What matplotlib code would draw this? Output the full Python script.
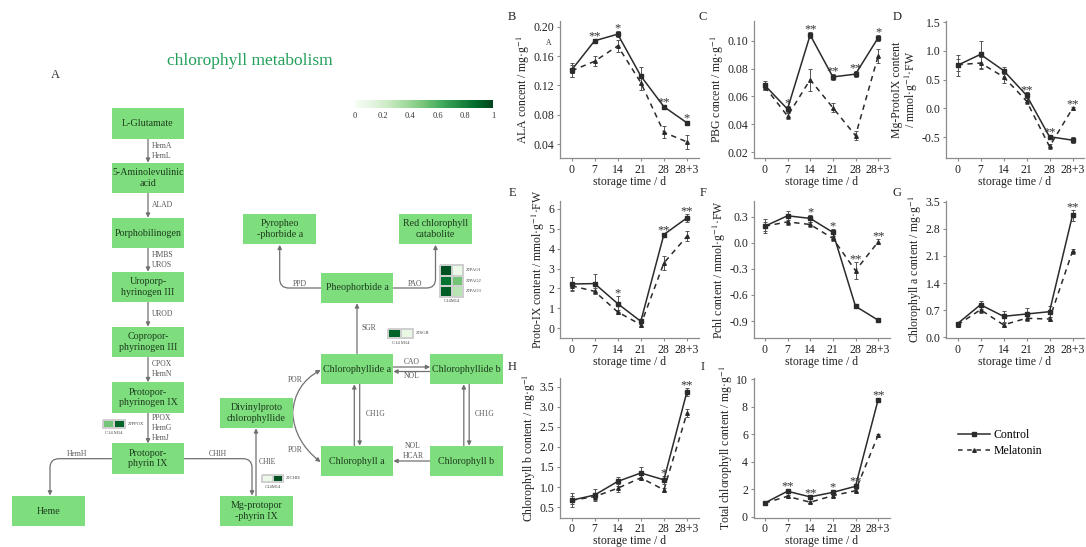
import numpy as np
import matplotlib
matplotlib.use("Agg")
import matplotlib.pyplot as plt
from matplotlib.patches import Rectangle, FancyArrowPatch
from matplotlib.path import Path
from matplotlib.lines import Line2D
from matplotlib.cm import ScalarMappable
from matplotlib.colors import Normalize

plt.rcParams['font.family'] = ['Liberation Serif', 'DejaVu Serif']
plt.rcParams['mathtext.fontset'] = 'stix'

# ---------------- data ----------------
days = ['0', '7', '14', '21', '28', '28+3']

ala_ctrl = [0.141, 0.181, 0.190, 0.133, 0.091, 0.069]
ala_ctrl_err = [0.010, 0.003, 0.004, 0.012, 0.003, 0.003]
ala_mel = [0.140, 0.153, 0.174, 0.124, 0.056, 0.043]
ala_mel_err = [0.008, 0.007, 0.008, 0.010, 0.008, 0.010]
ala_sig = ['', '**', '*', '', '**', '*']

pbg_ctrl = [0.068, 0.051, 0.104, 0.074, 0.076, 0.102]
pbg_ctrl_err = [0.003, 0.002, 0.002, 0.002, 0.002, 0.002]
pbg_mel = [0.067, 0.046, 0.072, 0.052, 0.032, 0.089]
pbg_mel_err = [0.002, 0.002, 0.008, 0.003, 0.003, 0.005]
pbg_sig = ['', '*', '**', '**', '**', '*']

mgp_ctrl = [0.75, 0.94, 0.66, 0.23, -0.49, -0.55]
mgp_ctrl_err = [0.18, 0.23, 0.06, 0.05, 0.03, 0.05]
mgp_mel = [0.76, 0.79, 0.55, 0.13, -0.66, 0.00]
mgp_mel_err = [0.10, 0.10, 0.10, 0.05, 0.05, 0.03]
mgp_sig = ['', '', '', '**', '**', '**']

pix_ctrl = [2.22, 2.24, 1.23, 0.34, 4.71, 5.55]
pix_ctrl_err = [0.35, 0.50, 0.40, 0.10, 0.10, 0.20]
pix_mel = [2.13, 1.85, 0.81, 0.17, 3.28, 4.62]
pix_mel_err = [0.20, 0.15, 0.10, 0.10, 0.35, 0.25]
pix_sig = ['', '', '*', '', '**', '**']

pchl_ctrl = [0.19, 0.31, 0.28, 0.12, -0.73, -0.89]
pchl_ctrl_err = [0.08, 0.05, 0.04, 0.04, 0.02, 0.02]
pchl_mel = [0.19, 0.24, 0.21, 0.05, -0.32, 0.01]
pchl_mel_err = [0.05, 0.04, 0.03, 0.03, 0.10, 0.03]
pchl_sig = ['', '', '*', '*', '**', '**']

chla_ctrl = [0.35, 0.84, 0.54, 0.60, 0.66, 3.15]
chla_ctrl_err = [0.05, 0.10, 0.15, 0.15, 0.15, 0.15]
chla_mel = [0.32, 0.71, 0.32, 0.49, 0.47, 2.22]
chla_mel_err = [0.05, 0.08, 0.05, 0.06, 0.05, 0.06]
chla_sig = ['', '', '', '', '', '**']

chlb_ctrl = [0.67, 0.80, 1.14, 1.35, 1.18, 3.38]
chlb_ctrl_err = [0.18, 0.15, 0.12, 0.15, 0.10, 0.10]
chlb_mel = [0.67, 0.76, 0.97, 1.23, 0.93, 2.84]
chlb_mel_err = [0.10, 0.08, 0.10, 0.06, 0.05, 0.10]
chlb_sig = ['', '', '', '', '*', '**']

tot_ctrl = [1.01, 1.86, 1.45, 1.78, 2.22, 8.53]
tot_ctrl_err = [0.10, 0.15, 0.10, 0.15, 0.15, 0.15]
tot_mel = [1.00, 1.49, 1.06, 1.54, 1.90, 5.95]
tot_mel_err = [0.08, 0.10, 0.08, 0.12, 0.10, 0.10]
tot_sig = ['', '**', '**', '*', '**', '**']

series_names = ['Control', 'Melatonin']

# pathway heatmap values (C14, M14)
ppox_vals = [[0.50, 0.90]]
chle_vals = [[0.08, 0.95]]
sgr_vals = [[0.90, 0.10]]
pao_vals = [[0.95, 0.08], [0.85, 0.50], [0.92, 0.30]]
pao_genes = ['ZJPAO1', 'ZJPAO2', 'ZJPAO3']
cbar_ticks = [0, 0.2, 0.4, 0.6, 0.8, 1]

# ---------------- figure ----------------
W, H = 1086, 547
fig = plt.figure(figsize=(W / 100, H / 100), dpi=100)

ax0 = fig.add_axes([0, 0, 1, 1])
ax0.set_xlim(0, W)
ax0.set_ylim(H, 0)
ax0.axis('off')

BOX = '#7ede7e'
TXT = '#1d3b1d'
ARR = '#707070'
ENZ = '#555555'

nodes = {
    'glu': (148, 123.5, 'L-Glutamate'),
    'ala': (148, 178, '5-Aminolevulinic\nacid'),
    'pbg': (148, 233, 'Porphobilinogen'),
    'uro': (148, 287, 'Uroporp-\nhyrinogen III'),
    'copro': (148, 342, 'Copropor-\nphyrinogen III'),
    'protogen': (148, 397.5, 'Protopor-\nphyrinogen IX'),
    'proto': (148, 458.7, 'Protopor-\nphyrin IX'),
    'heme': (48.3, 511, 'Heme'),
    'mgp': (256.3, 511, 'Mg-protopor\n-phyrin IX'),
    'dv': (256.3, 413, 'Divinylproto\nchlorophyllide'),
    'chlidea': (357, 369, 'Chlorophyllide a'),
    'chlideb': (466.5, 369, 'Chlorophyllide b'),
    'chla': (357, 461, 'Chlorophyll a'),
    'chlb': (466.5, 461, 'Chlorophyll b'),
    'pheo': (357, 288, 'Pheophorbide a'),
    'pyro': (279.7, 229, 'Pyropheo\n-phorbide a'),
    'rcc': (435.5, 229, 'Red chlorophyll\ncatabolite'),
}
BW, BH = 72.7, 30.6
for key, (cx, cy, lab) in nodes.items():
    ax0.add_patch(Rectangle((cx - BW / 2, cy - BH / 2), BW, BH, fc=BOX, ec='none', zorder=2))
    ax0.text(cx, cy, lab, ha='center', va='center', fontsize=7.2, color=TXT,
             linespacing=1.15, zorder=3)


def arrow(p0, p1):
    ax0.add_patch(FancyArrowPatch(p0, p1, arrowstyle='-|>', mutation_scale=6,
                                  color=ARR, lw=0.9, shrinkA=0, shrinkB=0, zorder=1))


def path_arrow(verts, codes):
    ax0.add_patch(FancyArrowPatch(path=Path(verts, codes), arrowstyle='-|>', mutation_scale=6,
                                  color=ARR, lw=0.9, zorder=1))


def elbow(x0, y0, xc, y1, r=9):
    sx = np.sign(xc - x0)
    sy = np.sign(y1 - y0)
    verts = [(x0, y0), (xc - sx * r, y0), (xc, y0), (xc, y0 + sy * r), (xc, y1)]
    codes = [Path.MOVETO, Path.LINETO, Path.CURVE3, Path.CURVE3, Path.LINETO]
    path_arrow(verts, codes)


def enz(x, y, s, ha='left'):
    ax0.text(x, y, s, ha=ha, va='center', fontsize=5.5, color=ENZ, zorder=3)


# main vertical chain
chain = ['glu', 'ala', 'pbg', 'uro', 'copro', 'protogen', 'proto']
for a, b in zip(chain[:-1], chain[1:]):
    arrow((148, nodes[a][1] + BH / 2), (148, nodes[b][1] - BH / 2))

enz(152, 146, 'HemA'); enz(152, 155.5, 'HemL')
enz(152, 205, 'ALAD')
enz(152, 255, 'HMBS'); enz(152, 265, 'UROS')
enz(152, 314, 'UROD')
enz(152, 364.5, 'CPOX'); enz(152, 374.5, 'HemN')
enz(152, 418, 'PPOX'); enz(152, 428, 'HemG'); enz(152, 437.5, 'HemJ')

# branches from protoporphyrin IX
elbow(148 - BW / 2, 458.7, 50, 495.5)
enz(77, 454, 'HemH', ha='center')
elbow(148 + BW / 2, 458.7, 252, 495.5)
enz(218, 454, 'CHlH', ha='center')

# Mg-proto -> divinyl
arrow((256, 511 - BH / 2), (256, 413 + BH / 2))
enz(259, 461.5, 'CHlE')

# POR arcs
dvx = 256.3 + BW / 2
path_arrow([(dvx, 413), (dvx + 2, 384), (357 - BW / 2, 370)], [Path.MOVETO, Path.CURVE3, Path.CURVE3])
path_arrow([(dvx, 413), (dvx + 2, 442), (357 - BW / 2, 462)], [Path.MOVETO, Path.CURVE3, Path.CURVE3])
enz(295, 379.5, 'POR', ha='center')
enz(295, 450, 'POR', ha='center')

# chlorophyllide a <-> b
arrow((357 + BW / 2, 367), (466.5 - BW / 2, 367))
arrow((466.5 - BW / 2, 371.5), (357 + BW / 2, 371.5))
enz(411.7, 361.5, 'CAO', ha='center')
enz(411.7, 376, 'NOL', ha='center')

# chlorophyllide <-> chlorophyll
for xc in (357, 466.5):
    arrow((xc - 2.7, 461 - BH / 2), (xc - 2.7, 369 + BH / 2))
    arrow((xc + 2.7, 369 + BH / 2), (xc + 2.7, 461 - BH / 2))
enz(366, 414, 'CH1G')
enz(475, 414, 'CH1G')

# chl b -> chl a
arrow((466.5 - BW / 2, 461), (357 + BW / 2, 461))
enz(413, 446, 'NOL', ha='center')
enz(413, 455.5, 'HCAR', ha='center')

# chlorophyllide a -> pheophorbide a
arrow((357, 369 - BH / 2), (357, 288 + BH / 2))
enz(362, 327.5, 'SGR')

# pheophorbide branches
elbow(357 - BW / 2, 288, 279.7, 229 + BH / 2 + 0.5)
enz(300, 283.5, 'PPD', ha='center')
elbow(357 + BW / 2, 288, 435.5, 229 + BH / 2 + 0.5)
enz(415, 283.5, 'PAO', ha='center')

# heatmaps
cmap = plt.get_cmap('Greens')


def heat(vals, x0, y0, cw, ch):
    v = np.array(vals)
    nr, nc = v.shape
    xe = x0 + cw * np.arange(nc + 1)
    ye = y0 + ch * np.arange(nr + 1)
    ax0.pcolormesh(xe, ye, v, cmap=cmap, vmin=0, vmax=1, edgecolors='#cfcfcf',
                   linewidth=0.3, zorder=3)
    return xe, ye


def tiny(x, y, s, ha='left'):
    ax0.text(x, y, s, ha=ha, va='center', fontsize=3.3, color='#444444', zorder=3)


xe, ye = heat(ppox_vals, 102.7, 420, 11.2, 8.4)
tiny(127.5, 424.2, 'ZJPPOX')
tiny(113.8, 432.5, 'C14 M14', ha='center')

xe, ye = heat(chle_vals, 261.7, 475, 10.8, 6.8)
tiny(285.5, 478.4, 'ZJCHlE')
tiny(272.5, 487, 'C14M14', ha='center')

xe, ye = heat(sgr_vals, 388.3, 329.3, 12.5, 8.4)
tiny(415.5, 333.5, 'ZJSGR')
tiny(400.8, 342.5, 'C14 M14', ha='center')

xe, ye = heat(pao_vals, 440, 265, 11.7, 10.5)
for i, g in enumerate(pao_genes):
    tiny(465.5, (ye[i] + ye[i + 1]) / 2, g)
tiny(451.7, 301, 'C14M14', ha='center')

# title & label
ax0.text(250, 61, 'chlorophyll metabolism', ha='center', va='center', fontsize=12.5,
         color='#22a05a')
ax0.text(55, 75, 'A', ha='center', va='center', fontsize=9, color='#333333')

# colorbar
cax = fig.add_axes([355 / W, 1 - 108 / H, 138 / W, 8 / H])
cb = fig.colorbar(ScalarMappable(norm=Normalize(0, 1), cmap=cmap), cax=cax,
                  orientation='horizontal', ticks=cbar_ticks)
cb.outline.set_visible(False)
cax.tick_params(length=0, labelsize=6, pad=3, colors='#333333')
cax.set_xticklabels([f'{t:g}' for t in cbar_ticks])

# ---------------- line charts ----------------
panels = [
    ('B', ala_ctrl, ala_ctrl_err, ala_mel, ala_mel_err, ala_sig,
     'ALA concent / mg·g$^{-1}$', (0.021, 0.208), [0.04, 0.08, 0.12, 0.16, 0.20], '{:.2f}'),
    ('C', pbg_ctrl, pbg_ctrl_err, pbg_mel, pbg_mel_err, pbg_sig,
     'PBG concent / mg·g$^{-1}$', (0.016, 0.114), [0.02, 0.04, 0.06, 0.08, 0.10], '{:.2f}'),
    ('D', mgp_ctrl, mgp_ctrl_err, mgp_mel, mgp_mel_err, mgp_sig,
     'Mg-ProtoIX content\n/ mmol·g$^{-1}$·FW', (-0.86, 1.52), [-0.5, 0.0, 0.5, 1.0, 1.5], '{:.1f}'),
    ('E', pix_ctrl, pix_ctrl_err, pix_mel, pix_mel_err, pix_sig,
     'Proto-IX content / mmol·g$^{-1}$·FW', (-0.5, 6.4), [0, 1, 2, 3, 4, 5, 6], '{:d}'),
    ('F', pchl_ctrl, pchl_ctrl_err, pchl_mel, pchl_mel_err, pchl_sig,
     'Pchl content / mmol·g$^{-1}$·FW', (-1.095, 0.48), [-0.9, -0.6, -0.3, 0.0, 0.3], '{:.1f}'),
    ('G', chla_ctrl, chla_ctrl_err, chla_mel, chla_mel_err, chla_sig,
     'Chlorophyll a content / mg·g$^{-1}$', (-0.02, 3.52), [0.0, 0.7, 1.4, 2.1, 2.8, 3.5], '{:.1f}'),
    ('H', chlb_ctrl, chlb_ctrl_err, chlb_mel, chlb_mel_err, chlb_sig,
     'Chlorophyll b content / mg·g$^{-1}$', (0.24, 3.72), [0.5, 1.0, 1.5, 2.0, 2.5, 3.0, 3.5], '{:.1f}'),
    ('I', tot_ctrl, tot_ctrl_err, tot_mel, tot_mel_err, tot_sig,
     'Total chlorophyll content / mg·g$^{-1}$', (-0.05, 10.1), [0, 2, 4, 6, 8, 10], '{:d}'),
]

col_l = [560, 753.5, 946]
col_r = [698.5, 889.5, 1084]
row_t = [21, 201, 378]
row_b = [158, 338, 517.5]
letter_x = [512, 703, 897]
letter_y = [17, 193, 367]

LINE = '#2b2b2b'
SPINE = '#8c8c8c'
x = np.arange(len(days))
for k, (let, c, ce, m, me, sig, ylab, ylim, yt, fmt) in enumerate(panels):
    r, cidx = divmod(k, 3)
    l, rr, t, b = col_l[cidx], col_r[cidx], row_t[r], row_b[r]
    ax = fig.add_axes([l / W, 1 - b / H, (rr - l) / W, (b - t) / H])
    ax.patch.set_alpha(0)
    ax.errorbar(x, c, yerr=ce, fmt='-', marker='s', ms=2.4, color=LINE, lw=1.1,
                ecolor='#555555', elinewidth=0.7, capsize=1.5, capthick=0.7)
    ax.errorbar(x, m, yerr=me, fmt='--', marker='^', ms=2.6, color=LINE, lw=1.1,
                dashes=(3.5, 3), ecolor='#555555', elinewidth=0.7, capsize=1.5, capthick=0.7)
    for xi in range(len(days)):
        if sig[xi]:
            top = max(c[xi] + ce[xi], m[xi] + me[xi])
            ax.annotate(sig[xi], xy=(xi, top), xytext=(0, -2.5), textcoords='offset points',
                        ha='center', va='bottom', fontsize=9, color='#333333')
    ax.set_xlim(-0.5, 5.5)
    ax.set_ylim(*ylim)
    ax.set_xticks(x)
    ax.set_xticklabels(days)
    ax.set_yticks(yt)
    ax.set_yticklabels([fmt.format(v) for v in yt])
    for s in ('top', 'right'):
        ax.spines[s].set_visible(False)
    for s in ('left', 'bottom'):
        ax.spines[s].set_color(SPINE)
        ax.spines[s].set_linewidth(0.9)
    ax.tick_params(length=2.5, width=0.8, color=SPINE, labelsize=8.5, pad=1.5, labelcolor='#222222')
    ax.set_xlabel('storage time / d', fontsize=8.5, labelpad=0.3, color='#222222')
    ax.set_ylabel(ylab, fontsize=8.5, labelpad=1, color='#222222', linespacing=1.0)
    fig.text(letter_x[cidx] / W, 1 - letter_y[r] / H, let, ha='center', va='center',
             fontsize=9, color='#222222')

fig.text(549 / W, 1 - 43 / H, 'A', ha='center', va='center', fontsize=5.5, color='#333333')

handles = [Line2D([], [], color=LINE, lw=1.1, marker='s', ms=2.4),
           Line2D([], [], color=LINE, lw=1.1, ls='--', dashes=(3, 3), marker='^', ms=2.6)]
fig.legend(handles, series_names, loc='upper left', bbox_to_anchor=(958 / W, 1 - 429 / H),
           frameon=False, fontsize=8.5, handlelength=2.7, handletextpad=0.3, labelspacing=0.35,
           borderaxespad=0, borderpad=0)

fig.savefig('out.png', dpi=100)
